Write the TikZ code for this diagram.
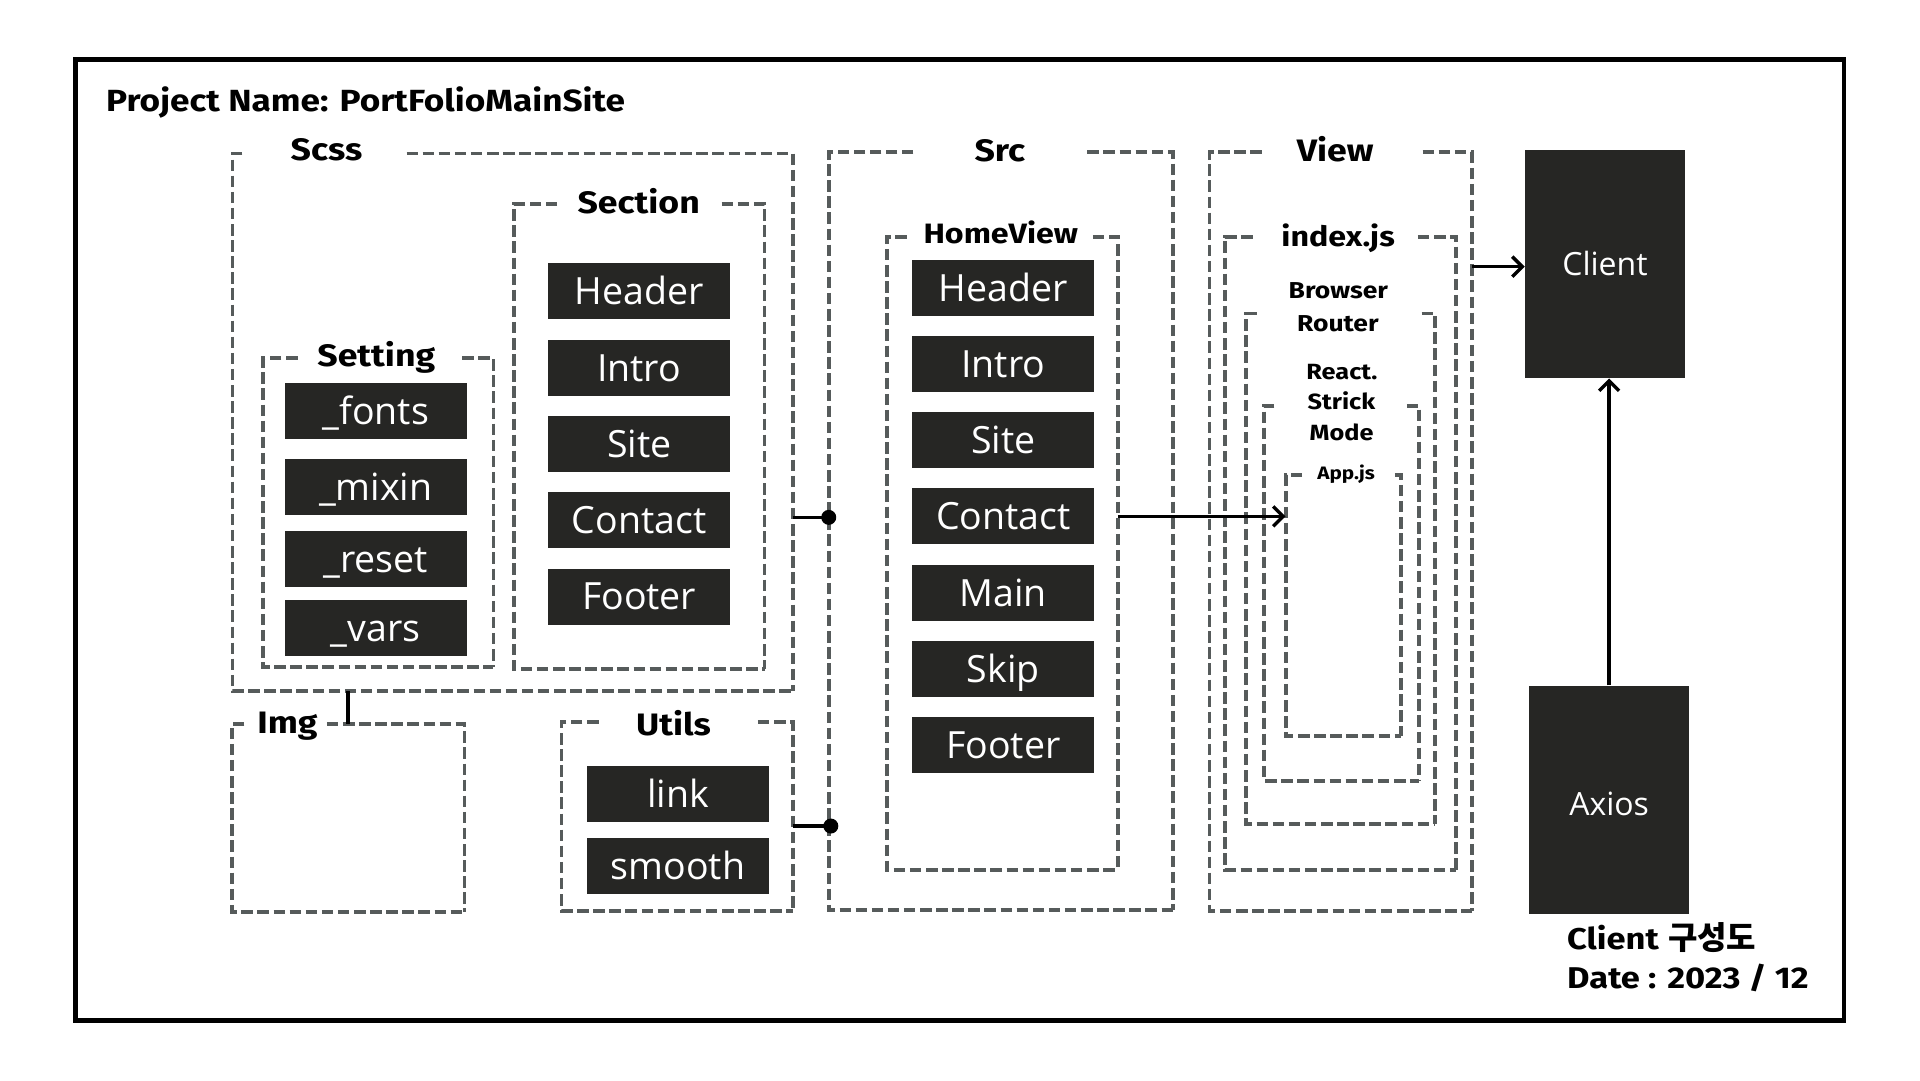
\documentclass[tikz,border=0pt]{standalone}
\usepackage{fontspec}
\setmainfont{Fira Sans}[FakeStretch=1.15]
\newfontfamily\boxfont{Open Sans}
\newfontfamily\krfont{Noto Sans CJK KR}
\usetikzlibrary{arrows.meta,fit}
\definecolor{darkbox}{HTML}{262624}
\definecolor{dashgray}{HTML}{565B5B}
\newcommand\fsz[1]{\fontsize{#1}{#1}\selectfont}
% name, left, top, right, bottom, gap-left, gap-right
\newcommand\dashframe[7]{%
  \coordinate (#1-nw) at (#2,#3);
  \coordinate (#1-se) at (#4,#5);
  \node[inner sep=0pt, outer sep=0pt, fit=(#1-nw)(#1-se)] (#1) {};
  \draw[dashline] (#6,#3) -- (#2,#3) -- (#2,#5) -- (#4,#5);
  \draw[dashline] (#7,#3) -- (#4,#3) -- (#4,#5);
}
\begin{document}
\begin{tikzpicture}[x=1.2245pt,y=-1.2245pt,
  dashline/.style={draw=dashgray, line width=3.8pt, dash pattern=on 11.5pt off 4.6pt},
  item/.style={fill=darkbox, text=white, inner sep=0pt, minimum width=182pt, minimum height=56pt,
    font=\boxfont\fsz{37.5}, text height=26.8pt, text depth=0pt},
  bigbox/.style={fill=darkbox, text=white, inner sep=0pt, minimum width=160pt, minimum height=228pt,
    font=\boxfont\fsz{32}, text height=22.8pt, text depth=0pt},
  lbl/.style={anchor=base, inner sep=0pt, font=\bfseries\fsz{31}},
  lblsz/.style={anchor=base, inner sep=0pt, font=\bfseries\fsz{#1}},
  conn/.style={line width=3.5pt, draw=black},
  arr/.style={conn, -{Straight Barb[length=10pt, width=20pt]}},
  dotn/.style={circle, fill=black, inner sep=0pt, minimum size=15pt}]

\fill[white, use as bounding box] (0,0) rectangle (1568,882);

% outer frame
\coordinate (fr-nw) at (61.5,48.5);
\coordinate (fr-se) at (1506,833.5);
\node[draw=black, line width=4.5pt, inner sep=0pt, fit=(fr-nw)(fr-se)] (frame) {};

\node[lblsz=30.6, anchor=base west] (title) at (86.6,91.2) {Project Name: PortFolioMainSite};

% dashed groups
\dashframe{scss}{189.8}{125.4}{647.4}{564.5}{198}{332}
\dashframe{section}{419.8}{166.6}{624.4}{546.6}{455}{589.3}
\dashframe{setting}{215}{292.6}{403}{545}{243}{377.5}
\dashframe{img}{189.5}{591.3}{379.4}{744.5}{199.6}{267}
\dashframe{utils}{458.6}{589.4}{647.4}{743.7}{488.8}{619}
\dashframe{src}{676.8}{124.4}{957.7}{743.2}{746}{888}
\dashframe{homeview}{724.4}{193.3}{912.9}{710.5}{740.7}{892.6}
\dashframe{view}{987.8}{124.4}{1201.8}{743.7}{1030.6}{1161.8}
\dashframe{indexjs}{1000.6}{193.3}{1189.3}{710.5}{1023}{1158}
\dashframe{router}{1017.8}{256}{1171.9}{673}{1026.2}{1161}
\dashframe{strict}{1032.5}{331.3}{1159}{637.8}{1040.8}{1149}
\dashframe{appjs}{1049.9}{387.9}{1144.3}{601}{1063.3}{1139.2}

% labels
\node[lbl] (l-scss) at (266.7,131) {Scss};
\node[lbl] (l-section) at (521.6,174.2) {Section};
\node[lbl] (l-setting) at (307.3,299.4) {Setting};
\node[lbl] (l-img) at (234.8,598.9) {Img};
\node[lbl] (l-utils) at (550,600.3) {Utils};
\node[lbl] (l-src) at (816.6,132) {Src};
\node[lblsz=28] (l-homeview) at (817.3,198.7) {HomeView};
\node[lbl] (l-view) at (1090.4,132) {View};
\node[lblsz=28] (l-indexjs) at (1092.8,200.9) {index.js};
\node[lblsz=23] (l-browser) at (1093,243.6) {Browser};
\node[lblsz=23] (l-router) at (1092.6,271.1) {Router};
\node[lblsz=22] (l-react) at (1095.9,309.8) {React.};
\node[lblsz=22] (l-strick) at (1095.5,334.8) {Strick};
\node[lblsz=22] (l-mode) at (1095.6,359.9) {Mode};
\node[lblsz=18] (l-appjs) at (1099.3,391.2) {App.js};

% Section items
\node[item] (sec-header) at (522,237.9) {Header};
\node[item] (sec-intro) at (522,300.5) {Intro};
\node[item] (sec-site) at (522,362.6) {Site};
\node[item] (sec-contact) at (522,424.9) {Contact};
\node[item] (sec-footer) at (522,487.2) {Footer};

% Setting items
\node[item] (set-fonts) at (306.9,335.6) {\_fonts};
\node[item] (set-mixin) at (306.9,397.5) {\_mixin};
\node[item] (set-reset) at (306.9,456.5) {\_reset};
\node[item] (set-vars) at (306.9,513.2) {\_vars};

% Utils items
\node[item] (ut-link) at (553.6,648.7) {link};
\node[item] (ut-smooth) at (553.6,707.5) {smooth};

% HomeView items
\node[item] (hv-header) at (819.4,234.9) {Header};
\node[item] (hv-intro) at (819.4,297.4) {Intro};
\node[item] (hv-site) at (819.4,359.7) {Site};
\node[item] (hv-contact) at (819.4,421.7) {Contact};
\node[item] (hv-main) at (819.4,484) {Main};
\node[item] (hv-skip) at (819.4,546.5) {Skip};
\node[item] (hv-footer) at (819.4,608.5) {Footer};

% Client / Axios
\node[bigbox] (client) at (1310.7,215.75) {Client};
\node[bigbox, text height=32.6pt] (axios) at (1314.1,653) {Axios};

\node[lblsz=30, anchor=base west] (l-client) at (1279.7,775.8) {Client\hspace{1pt} {\krfont\bfseries\fsz{32}구성도}};
\node[lblsz=30, anchor=base west] (l-date) at (1279.7,807.1) {Date : 2023 / 12};

% connectors
\node[dotn] (dot1) at (676.8,422.5) {};
\node[dotn] (dot2) at (678.5,674.6) {};
\draw[conn] (scss.east |- dot1) -- (dot1.center);
\draw[conn] (utils.east |- dot2) -- (dot2.center);
\coordinate (imgx) at (284.2,578);
\draw[conn] (imgx |- scss.south) -- (imgx |- img.north);
\draw[arr] (homeview.east |- hv-contact) -- (appjs.west |- hv-contact);
\coordinate (clienty) at (1220,217.8);
\draw[arr] (view.east |- clienty) -- (client.west |- clienty);
\draw[arr] (axios.north) -- (axios.north |- client.south);
\end{tikzpicture}
\end{document}
